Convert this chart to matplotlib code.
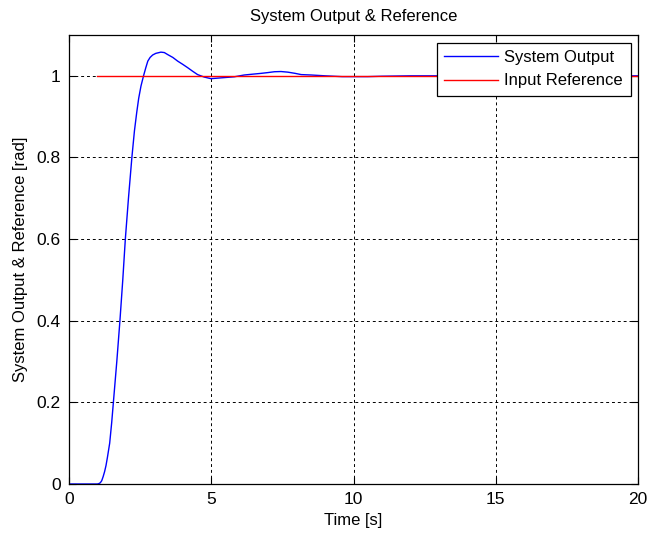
import numpy as np
import matplotlib
matplotlib.use("Agg")
import matplotlib.pyplot as plt

# values
t_out = [0.0, 1.0, 1.05, 1.1, 1.15, 1.2, 1.25, 1.3, 1.35, 1.43, 1.5, 1.56, 1.68,
         1.79, 1.89, 1.98, 2.09, 2.21, 2.3, 2.38, 2.45, 2.53, 2.62, 2.7, 2.77,
         2.85, 2.94, 3.05, 3.23, 3.35, 3.47, 3.65, 3.82, 4.0, 4.17, 4.35, 4.52,
         4.75, 4.99, 5.34, 5.81, 6.16, 6.45, 6.75, 7.0, 7.22, 7.45, 7.69, 7.95,
         8.16, 8.51, 9.0, 9.6, 10.5, 11.0, 12.0, 20.0]
y_out = [0.0, 0.0, 0.001, 0.003, 0.008, 0.018, 0.03, 0.045, 0.065, 0.1, 0.15,
         0.2, 0.3, 0.4, 0.5, 0.6, 0.7, 0.8, 0.865, 0.91, 0.945, 0.975, 1.0,
         1.02, 1.036, 1.045, 1.051, 1.055, 1.058, 1.057, 1.052, 1.045, 1.036,
         1.028, 1.020, 1.011, 1.003, 0.997, 0.993, 0.995, 0.9976, 1.002, 1.004,
         1.006, 1.008, 1.010, 1.0105, 1.009, 1.006, 1.003, 1.002, 1.0, 0.998,
         0.998, 0.999, 1.0, 1.0]

t_ref = [1.0, 20.0]
y_ref = [1.0, 1.0]

x_ticks = [0, 5, 10, 15, 20]
y_ticks = [0, 0.2, 0.4, 0.6, 0.8, 1]
y_tick_labels = ["0", "0.2", "0.4", "0.6", "0.8", "1"]

plt.rcParams['font.family'] = ['Liberation Sans', 'DejaVu Sans']

fig = plt.figure(figsize=(6.48, 5.36), dpi=100)
ax = fig.add_axes([69 / 648, 1 - 484 / 536, (638 - 69) / 648, (484 - 35) / 536])

ax.plot(t_out, y_out, color="#0000ff", lw=1.0, label="System Output")
ax.plot(t_ref, y_ref, color="#ff0000", lw=1.0, label="Input Reference")

ax.set_xlim(0, 20)
ax.set_ylim(0, 1.1)
ax.set_xticks(x_ticks)
ax.set_yticks(y_ticks)
ax.set_yticklabels(y_tick_labels)
ax.tick_params(direction="in", length=5, width=0.8, labelsize=12.5, pad=6,
               top=True, right=True)
for s in ax.spines.values():
    s.set_linewidth(0.9)

ax.grid(True, color="black", linestyle=(0, (3, 3)), linewidth=0.7)

ax.set_title("System Output & Reference", fontsize=12, pad=10)
ax.set_xlabel("Time [s]", fontsize=12, labelpad=4)
ax.set_ylabel("System Output & Reference [rad]", fontsize=12, labelpad=6)

leg = ax.legend(loc="upper right", fontsize=12, fancybox=False, framealpha=1,
                edgecolor="black", borderaxespad=0.45, handlelength=3.2,
                handletextpad=0.4, borderpad=0.45, labelspacing=0.5)
leg.get_frame().set_linewidth(0.9)

fig.savefig("out.png", dpi=100)
